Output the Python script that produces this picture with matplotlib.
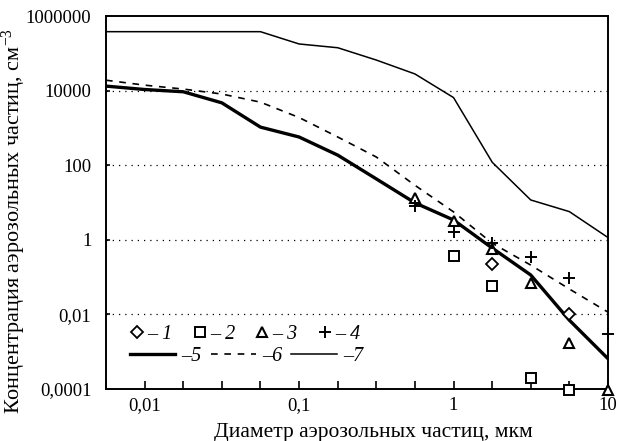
import numpy as np
import matplotlib
matplotlib.use("Agg")
import matplotlib.pyplot as plt

plt.rcParams['font.family'] = ['Liberation Serif', 'DejaVu Serif']
plt.rcParams['mathtext.fontset'] = 'custom'
plt.rcParams['mathtext.rm'] = 'Liberation Serif'
plt.rcParams['mathtext.it'] = 'Liberation Serif:italic'

# particle diameters (quarter-decade grid), um
diam = [0.00562, 0.01, 0.0178, 0.0316, 0.0562, 0.1, 0.178, 0.316, 0.562,
        1.0, 1.78, 3.16, 5.62, 10.0]

# curves
curve5 = [13200, 10700, 9300, 4700, 1050, 570, 186, 43, 9.8,
          3.4, 0.6, 0.114, 0.007, 0.00065]
curve6 = [19000, 14000, 11000, 8100, 4900, 1900, 570, 166, 29,
          5.6, 0.81, 0.21, 0.048, 0.0115]
curve7 = [380000, 380000, 380000, 380000, 380000, 178000, 141000, 66000, 28000,
          6500, 120, 11.7, 5.7, 1.15]

# measured points
x1 = [1.78, 5.62]
y1 = [0.22, 0.0105]
x2 = [1.0, 1.78, 3.16, 5.62]
y2 = [0.37, 0.059, 0.0002, 0.000095]
x3 = [0.562, 1.0, 1.78, 3.16, 5.62, 10.0]
y3 = [13, 3.2, 0.56, 0.068, 0.0017, 0.000095]
x4 = [0.562, 1.0, 1.78, 3.16, 5.62, 10.0]
y4 = [8.0, 1.65, 0.83, 0.35, 0.093, 0.0029]

ytick_vals = [1e6, 1e4, 1e2, 1, 1e-2, 1e-4]
ytick_labels = ["1000000", "10000", "100", "1", "0,01", "0,0001"]
xtick_vals = [0.01, 0.1, 1, 10]
xtick_labels = ["0,01", "0,1", "1", "10"]
grid_vals = [1e4, 1e2, 1, 1e-2]

fig = plt.figure(figsize=(6.17, 4.41), dpi=100)
ax = fig.add_axes([0.1718, 0.1179, 0.8136, 0.8458])
ax.set_xscale('log')
ax.set_yscale('log')
ax.set_xlim(10 ** -2.25, 10)
ax.set_ylim(1e-4, 1e6)

for v in grid_vals:
    ax.axhline(v, color='black', lw=0.9, ls=(0, (1, 4)), zorder=1)

l5, = ax.plot(diam, curve5, color='black', lw=2.4, zorder=3)
l6, = ax.plot(diam, curve6, color='black', lw=1.2, ls=(0, (4, 4)), zorder=3)
l7, = ax.plot(diam, curve7, color='black', lw=1.1, zorder=3)

m1, = ax.plot(x1, y1, ls='none', marker='D', ms=6.3, mfc='white', mec='black', mew=1.3, clip_on=False, zorder=4)
m2, = ax.plot(x2, y2, ls='none', marker='s', ms=7.3, mfc='white', mec='black', mew=1.4, clip_on=False, zorder=4)
m3, = ax.plot(x3, y3, ls='none', marker='^', ms=7, mfc='white', mec='black', mew=1.5, clip_on=False, zorder=4)
m4, = ax.plot(x4, y4, ls='none', marker='+', ms=8, mec='black', mew=1.4, clip_on=False, zorder=4)

for s in ax.spines.values():
    s.set_linewidth(1.4)

ax.set_yticks(ytick_vals)
ax.set_yticklabels(ytick_labels)
ax.yaxis.set_minor_locator(matplotlib.ticker.NullLocator())
ax.set_xticks(xtick_vals)
ax.set_xticklabels(xtick_labels)
ax.set_xticks(diam, minor=True)
ax.xaxis.set_minor_formatter(matplotlib.ticker.NullFormatter())
ax.tick_params(axis='x', which='both', direction='in', length=6, width=1.2, labelsize=13.5, pad=6)
ax.tick_params(axis='y', which='both', direction='in', length=3, width=1.2, labelsize=13.5, pad=10.5)

ax.set_xlabel("Диаметр аэрозольных частиц, мкм", fontsize=15.5)
ax.xaxis.set_label_coords(0.532, -0.09)
ax.set_ylabel("Концентрация аэрозольных частиц, см$^{-3}$", fontsize=16)
ax.yaxis.set_label_coords(-0.156, 0.45)

leg_font = {'family': 'Liberation Serif', 'style': 'italic', 'size': 14.5}
leg1 = ax.legend([m1, m2, m3, m4], ["– 1", "– 2", "– 3", "– 4"], ncol=4, frameon=False,
                 loc='center left', bbox_to_anchor=(0.052, 0.145), prop=leg_font,
                 handlelength=0.5, handletextpad=0.25, columnspacing=1.1, borderpad=0, borderaxespad=0)
ax.add_artist(leg1)
leg2 = ax.legend([l5, l6, l7], ["–5", "–6", "–7"], ncol=3, frameon=False,
                 loc='center left', bbox_to_anchor=(0.048, 0.087), prop=leg_font,
                 handlelength=2.25, handletextpad=0.3, columnspacing=0.45, borderpad=0, borderaxespad=0)

fig.savefig("out.png", dpi=100)
